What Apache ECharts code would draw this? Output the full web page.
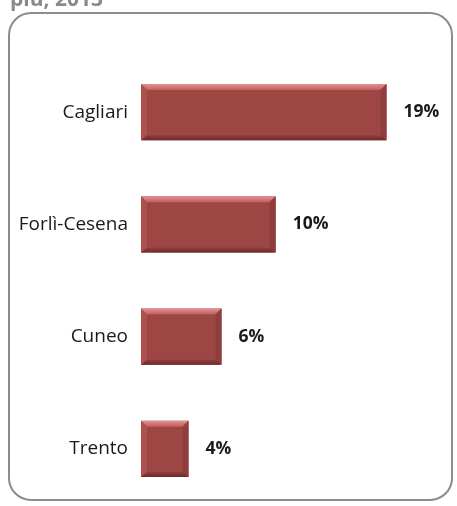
<!DOCTYPE html>
<html>
<head>
<meta charset="utf-8">
<script src="https://cdn.jsdelivr.net/npm/echarts@6/dist/echarts.min.js"></script>
<style>html,body{margin:0;padding:0;background:#fff;}#c{width:457px;height:506px;}</style>
</head>
<body>
<div id="c"></div>
<script>
var categories = ['Cagliari', 'Forlì-Cesena', 'Cuneo', 'Trento'];
var values = [18.6, 10.2, 6.1, 3.6];
var titleText = 'più, 2013';

var chart = echarts.init(document.getElementById('c'), null, {renderer: 'canvas'});

function renderBevel(params, api) {
  var idx = api.value(0);
  var val = api.value(1);
  var p0 = api.coord([0, idx]);
  var p1 = api.coord([val, idx]);
  var h = api.size([0, 1])[1] * 0.5;
  var x0 = p0[0], x1 = p1[0], y0 = p0[1] - h / 2, y1 = p0[1] + h / 2;
  var b = 6;
  var bb = 5;
  return {
    type: 'group',
    children: [
      {type: 'rect', shape: {x: x0, y: y0, width: x1 - x0, height: y1 - y0},
       style: {fill: '#9e4644'}},
      {type: 'polygon', shape: {points: [[x0, y0], [x1, y0], [x1 - b, y0 + b], [x0 + b, y0 + b]]},
       style: {fill: new echarts.graphic.LinearGradient(0, 0, 0, 1, [
         {offset: 0, color: '#e3908d'}, {offset: 1, color: '#c0605d'}])}},
      {type: 'polygon', shape: {points: [[x0, y0], [x0 + b, y0 + b], [x0 + b, y1 - bb], [x0, y1]]},
       style: {fill: '#ad504e'}},
      {type: 'polygon', shape: {points: [[x1, y0], [x1, y1], [x1 - b, y1 - bb], [x1 - b, y0 + b]]},
       style: {fill: '#8e3e3c'}},
      {type: 'polygon', shape: {points: [[x0, y1], [x0 + b, y1 - bb], [x1 - b, y1 - bb], [x1, y1]]},
       style: {fill: new echarts.graphic.LinearGradient(0, 0, 0, 1, [
         {offset: 0, color: '#8f3f3d'}, {offset: 1, color: '#6a2a29'}])}}
    ]
  };
}

var bevelData = values.map(function (v, i) { return [i, v]; });

chart.setOption({
  animation: false,
  grid: {left: 141, right: 52, top: 56, bottom: 1, containLabel: false},
  xAxis: {type: 'value', min: 0, max: 20, show: false, splitLine: {show: false}},
  yAxis: {
    type: 'category', data: categories, inverse: true,
    axisLine: {show: false}, axisTick: {show: false},
    axisLabel: {margin: 13, fontFamily: 'Open Sans', fontSize: 19, color: '#1a1a1a'}
  },
  series: [
    {
      type: 'custom', renderItem: renderBevel, data: bevelData,
      encode: {x: 1, y: 0}, z: 2
    },
    {
      type: 'bar', data: values, barCategoryGap: '50%', z: 1,
      itemStyle: {color: 'rgba(0,0,0,0)'},
      label: {
        show: true, position: 'right', distance: 17,
        fontFamily: 'Open Sans', fontWeight: 'bold', fontSize: 17.5, color: '#1a1a1a',
        formatter: function (p) { return Math.round(p.value) + '%'; }
      }
    }
  ],
  graphic: [
    {type: 'rect', shape: {x: 9, y: 13, width: 443, height: 487, r: 22},
     style: {fill: 'none', stroke: '#8c8c8c', lineWidth: 2}, silent: true},
    {type: 'text', x: 10, y: 11,
     style: {text: titleText, fill: '#8a8a8a', font: 'bold 21px "Open Sans"', textVerticalAlign: 'bottom'}}
  ]
});
</script>
</body>
</html>
